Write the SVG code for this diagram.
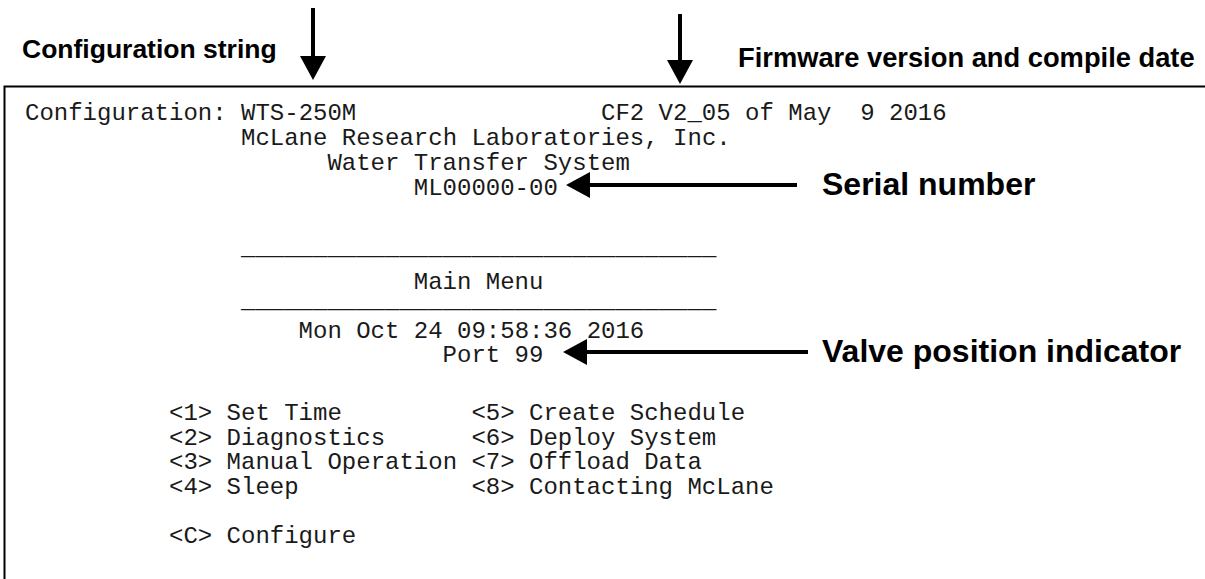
<svg xmlns="http://www.w3.org/2000/svg" width="1205" height="579" viewBox="0 0 1205 579">
<style>
.term{font-family:"Liberation Mono","Courier New",monospace;font-size:24px;fill:#1a1a1a;white-space:pre}
.lbl{font-family:"Liberation Sans",Arial,sans-serif;font-weight:bold;fill:#000}
.arr{stroke:#000;stroke-width:4;fill:none;marker-end:url(#head)}
.box{stroke:#000;stroke-width:2;fill:none}
</style>
<defs>
<marker id="head" markerUnits="userSpaceOnUse" markerWidth="26" markerHeight="28" refX="0" refY="13" orient="auto" viewBox="0 0 26 28">
<path d="M0,0 L24,13 L0,26 z" fill="#000"/>
</marker>
</defs>
<g id="screen">
<path class="box" d="M4.5,579 L4.5,86.5 L1205,86.5"/>
<text class="term" x="25" y="120">Configuration: WTS-250M</text>
<text class="term" x="601" y="120" xml:space="preserve">CF2 V2_05 of May  9 2016</text>
<text class="term" x="241" y="145">McLane Research Laboratories, Inc.</text>
<text class="term" x="327.4" y="170">Water Transfer System</text>
<text class="term" x="413.8" y="195">ML00000-00</text>
<text class="term" x="241" y="255">_________________________________</text>
<text class="term" x="413.8" y="289">Main Menu</text>
<text class="term" x="241" y="308">_________________________________</text>
<text class="term" x="298.6" y="338">Mon Oct 24 09:58:36 2016</text>
<text class="term" x="442.6" y="362">Port 99</text>
<text class="term" x="169" y="420">&lt;1&gt; Set Time</text>
<text class="term" x="471.4" y="420">&lt;5&gt; Create Schedule</text>
<text class="term" x="169" y="445">&lt;2&gt; Diagnostics</text>
<text class="term" x="471.4" y="445">&lt;6&gt; Deploy System</text>
<text class="term" x="169" y="469">&lt;3&gt; Manual Operation</text>
<text class="term" x="471.4" y="469">&lt;7&gt; Offload Data</text>
<text class="term" x="169" y="494">&lt;4&gt; Sleep</text>
<text class="term" x="471.4" y="494">&lt;8&gt; Contacting McLane</text>
<text class="term" x="169" y="543">&lt;C&gt; Configure</text>
</g>
<g id="label-config"><text class="lbl" x="22" y="58" font-size="26.5">Configuration string</text></g>
<g id="label-firmware"><text class="lbl" x="738" y="67" font-size="27.3">Firmware version and compile date</text></g>
<g id="label-serial"><text class="lbl" x="822" y="195" font-size="32">Serial number</text></g>
<g id="label-valve"><text class="lbl" x="822" y="362" font-size="32">Valve position indicator</text></g>
<g id="connectors">
<line class="arr" x1="313" y1="8" x2="313" y2="56"/>
<line class="arr" x1="680" y1="14" x2="680" y2="60"/>
<line class="arr" x1="797" y1="185" x2="590" y2="185"/>
<line class="arr" x1="808" y1="352" x2="587" y2="352"/>
</g>
</svg>
